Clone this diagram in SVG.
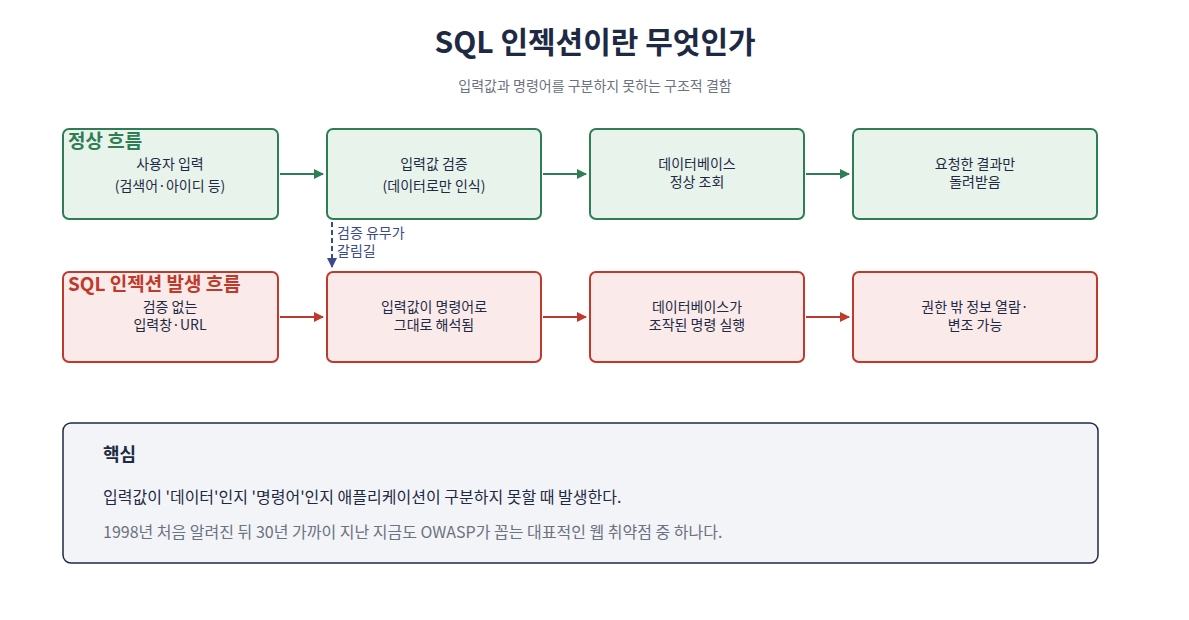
<svg xmlns="http://www.w3.org/2000/svg" width="1189" height="620" viewBox="0 0 1189 620">
<defs>
<style>
text{font-family:"Noto Sans CJK KR","Noto Sans",sans-serif;}
.g{fill:#e8f3ec;stroke:#2e7d55;stroke-width:2}
.r{fill:#faeaea;stroke:#c0392b;stroke-width:2}
.t{font-size:14px;fill:#1e2a44;text-anchor:middle}
.cg{stroke:#2e7d55;stroke-width:2;fill:none}
.cr{stroke:#c0392b;stroke-width:2;fill:none}
</style>
<marker id="ag" markerWidth="10" markerHeight="10" refX="9" refY="5" orient="auto" markerUnits="userSpaceOnUse"><path d="M0,0L10,5L0,10z" fill="#2e7d55"/></marker>
<marker id="ar" markerWidth="10" markerHeight="10" refX="9" refY="5" orient="auto" markerUnits="userSpaceOnUse"><path d="M0,0L10,5L0,10z" fill="#c0392b"/></marker>
<marker id="ab" markerWidth="10" markerHeight="10" refX="9" refY="5" orient="auto" markerUnits="userSpaceOnUse"><path d="M0,0L10,5L0,10z" fill="#3b4a8a"/></marker>
</defs>
<rect width="1189" height="620" fill="#fff"/>
<text x="595" y="53" text-anchor="middle" font-size="30" font-weight="bold" fill="#1e2a44">SQL 인젝션이란 무엇인가</text>
<text x="595" y="91" text-anchor="middle" font-size="14" fill="#6b7280">입력값과 명령어를 구분하지 못하는 구조적 결함</text>
<g id="n1"><rect class="g" x="63" y="129" width="215" height="90" rx="6"/><text class="t" x="170" y="169">사용자 입력</text><text class="t" x="170" y="191">(검색어·아이디 등)</text></g>
<g id="n2"><rect class="g" x="327" y="129" width="214" height="90" rx="6"/><text class="t" x="434" y="169">입력값 검증</text><text class="t" x="434" y="191">(데이터로만 인식)</text></g>
<g id="n3"><rect class="g" x="590" y="129" width="214" height="90" rx="6"/><text class="t" x="697" y="169">데이터베이스</text><text class="t" x="697" y="187">정상 조회</text></g>
<g id="n4"><rect class="g" x="853" y="129" width="244" height="90" rx="6"/><text class="t" x="975" y="169">요청한 결과만</text><text class="t" x="975" y="187">돌려받음</text></g>
<g id="n5"><rect class="r" x="63" y="272" width="215" height="90" rx="6"/><text class="t" x="170" y="312">검증 없는</text><text class="t" x="170" y="330">입력창·URL</text></g>
<g id="n6"><rect class="r" x="327" y="272" width="214" height="90" rx="6"/><text class="t" x="434" y="312">입력값이 명령어로</text><text class="t" x="434" y="330">그대로 해석됨</text></g>
<g id="n7"><rect class="r" x="590" y="272" width="214" height="90" rx="6"/><text class="t" x="697" y="312">데이터베이스가</text><text class="t" x="697" y="330">조작된 명령 실행</text></g>
<g id="n8"><rect class="r" x="853" y="272" width="244" height="90" rx="6"/><text class="t" x="975" y="312">권한 밖 정보 열람·</text><text class="t" x="975" y="330">변조 가능</text></g>
<text x="68" y="148" font-size="19" font-weight="bold" fill="#2e7d55">정상 흐름</text>
<text x="68" y="291" font-size="19" font-weight="bold" fill="#c0392b">SQL 인젝션 발생 흐름</text>
<g id="connectors">
<path class="cg" d="M280,174H323" marker-end="url(#ag)"/>
<path class="cg" d="M543,174H586" marker-end="url(#ag)"/>
<path class="cg" d="M806,174H849" marker-end="url(#ag)"/>
<path class="cr" d="M280,317H323" marker-end="url(#ar)"/>
<path class="cr" d="M543,317H586" marker-end="url(#ar)"/>
<path class="cr" d="M806,317H849" marker-end="url(#ar)"/>
<path d="M332,222V267" stroke="#3b4a8a" stroke-width="2" stroke-dasharray="5,3" fill="none" marker-end="url(#ab)"/>
<text x="337" y="238" font-size="14" fill="#3b4a8a">검증 유무가</text>
<text x="337" y="256" font-size="14" fill="#3b4a8a">갈림길</text>
</g>
<g id="core"><rect x="63" y="423" width="1035" height="140" rx="8" fill="#f3f4f8" stroke="#1e2a44" stroke-width="1.5"/>
<text x="103" y="461" font-size="18" font-weight="bold" fill="#1e2a44">핵심</text>
<text x="103" y="503" font-size="16" fill="#1e2a44">입력값이 '데이터'인지 '명령어'인지 애플리케이션이 구분하지 못할 때 발생한다.</text>
<text x="103" y="538" font-size="16" fill="#6b7280">1998년 처음 알려진 뒤 30년 가까이 지난 지금도 OWASP가 꼽는 대표적인 웹 취약점 중 하나다.</text></g>
</svg>
